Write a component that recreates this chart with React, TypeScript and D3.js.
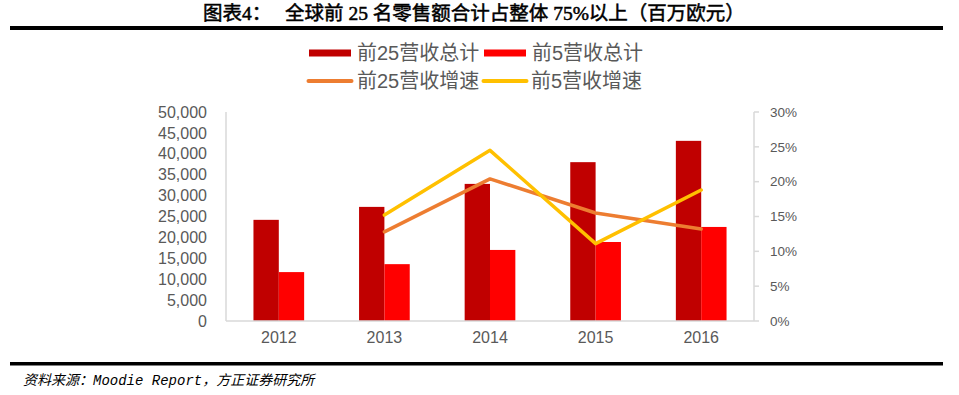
import { useEffect, useRef } from "react";
import * as d3 from "d3";

const years = ["2012", "2013", "2014", "2015", "2016"];
const top25Revenue = [24200, 27300, 32800, 38000, 43100];
const top5Revenue = [11700, 13600, 17000, 18900, 22500];
const top25Growth: (number | null)[] = [null, 12.8, 20.4, 15.5, 13.2];
const top5Growth: (number | null)[] = [null, 15.2, 24.5, 11.1, 18.8];
const leftTicks = [0, 5000, 10000, 15000, 20000, 25000, 30000, 35000, 40000, 45000, 50000];
const rightTicks = [0, 5, 10, 15, 20, 25, 30];

const legendItems = [
  { label: "前25营收总计", color: "#C00000", type: "bar" },
  { label: "前5营收总计", color: "#FF0000", type: "bar" },
  { label: "前25营收增速", color: "#ED7D31", type: "line" },
  { label: "前5营收增速", color: "#FFC000", type: "line" },
];

const WIDTH = 959;
const HEIGHT = 395;
const SANS = "'Liberation Sans', Arial, 'Noto Sans CJK SC', sans-serif";
const SERIF = "'Liberation Serif', 'Noto Sans CJK SC', serif";

export default function App() {
  const svgRef = useRef<SVGSVGElement>(null);

  useEffect(() => {
    document.body.style.margin = "0";
    if (!svgRef.current) return;
    const svg = d3.select(svgRef.current);
    svg.selectAll("*").remove();

    const plot = { left: 226, right: 754, top: 112, bottom: 321 };

    const x = d3.scaleBand<string>().domain(years).range([plot.left, plot.right]);
    const y = d3.scaleLinear().domain([0, 50000]).range([plot.bottom, plot.top]);
    const yR = d3.scaleLinear().domain([0, 30]).range([plot.bottom, plot.top]);
    const barW = x.bandwidth() * 0.24;
    const cx = (d: string) => (x(d) as number) + x.bandwidth() / 2;

    // title + rules
    svg.append("text")
      .attr("x", 203).attr("y", 20)
      .attr("font-family", SERIF).attr("font-size", 19.5)
      .attr("stroke", "#000").attr("stroke-width", 0.5)
      .text("图表4：");
    svg.append("text")
      .attr("x", 285).attr("y", 20)
      .attr("font-family", SERIF).attr("font-size", 19.5)
      .attr("stroke", "#000").attr("stroke-width", 0.5)
      .attr("xml:space", "preserve")
      .text("全球前 25 名零售额合计占整体 75%以上（百万欧元）");
    svg.append("rect").attr("x", 10).attr("y", 26).attr("width", 933).attr("height", 4).attr("fill", "#000");
    svg.append("rect").attr("x", 10).attr("y", 362).attr("width", 933).attr("height", 3.5).attr("fill", "#000");

    // legend
    const legendPos = [
      { sx: 309, tx: 357, y: 53 },
      { sx: 484, tx: 532, y: 53 },
      { sx: 307, tx: 357, y: 81 },
      { sx: 482, tx: 531, y: 81 },
    ];
    legendItems.forEach((item, i) => {
      const p = legendPos[i];
      if (item.type === "bar") {
        svg.append("rect").attr("x", p.sx).attr("y", p.y - 3.5).attr("width", 42).attr("height", 7).attr("fill", item.color);
      } else {
        svg.append("line")
          .attr("x1", p.sx + 1.5).attr("x2", p.sx + 44.5).attr("y1", p.y).attr("y2", p.y)
          .attr("stroke", item.color).attr("stroke-width", 4).attr("stroke-linecap", "round");
      }
      svg.append("text")
        .attr("x", p.tx).attr("y", p.y + 7)
        .attr("font-family", SANS).attr("font-size", 20).attr("fill", "#595959")
        .text(item.label);
    });

    // axes
    const axisColor = "#D9D9D9";
    svg.append("line").attr("x1", plot.left).attr("x2", plot.left).attr("y1", plot.top).attr("y2", plot.bottom)
      .attr("stroke", axisColor).attr("stroke-width", 1.5);
    svg.append("line").attr("x1", plot.right).attr("x2", plot.right).attr("y1", plot.top).attr("y2", plot.bottom)
      .attr("stroke", axisColor).attr("stroke-width", 1.5);
    svg.selectAll(".rtick").data(rightTicks).enter().append("line")
      .attr("x1", plot.right).attr("x2", plot.right + 5)
      .attr("y1", d => yR(d)).attr("y2", d => yR(d))
      .attr("stroke", axisColor).attr("stroke-width", 1.5);

    svg.selectAll(".lt").data(leftTicks).enter().append("text")
      .attr("x", 207).attr("y", d => y(d)).attr("dy", "0.35em")
      .attr("text-anchor", "end").attr("font-family", SANS).attr("font-size", 16).attr("fill", "#595959")
      .text(d => d3.format(",")(d));
    svg.selectAll(".rt").data(rightTicks).enter().append("text")
      .attr("x", 770).attr("y", d => yR(d)).attr("dy", "0.35em")
      .attr("font-family", SANS).attr("font-size", 13.5).attr("fill", "#595959")
      .text(d => `${d}%`);
    svg.selectAll(".xt").data(years).enter().append("text")
      .attr("x", d => cx(d)).attr("y", 343)
      .attr("text-anchor", "middle").attr("font-family", SANS).attr("font-size", 16).attr("fill", "#595959")
      .text(d => d);

    // bars
    svg.selectAll(".b25").data(years).enter().append("rect")
      .attr("x", d => cx(d) - barW).attr("width", barW)
      .attr("y", (_, i) => y(top25Revenue[i])).attr("height", (_, i) => plot.bottom - y(top25Revenue[i]))
      .attr("fill", "#C00000");
    svg.selectAll(".b5").data(years).enter().append("rect")
      .attr("x", d => cx(d)).attr("width", barW)
      .attr("y", (_, i) => y(top5Revenue[i])).attr("height", (_, i) => plot.bottom - y(top5Revenue[i]))
      .attr("fill", "#FF0000");

    svg.append("line").attr("x1", plot.left).attr("x2", plot.right).attr("y1", plot.bottom).attr("y2", plot.bottom)
      .attr("stroke", axisColor).attr("stroke-width", 1.5);

    // growth lines
    const line = d3.line<[string, number | null]>()
      .defined(d => d[1] !== null)
      .x(d => cx(d[0]))
      .y(d => yR(d[1] as number));

    const series = [
      { values: top25Growth, color: "#ED7D31" },
      { values: top5Growth, color: "#FFC000" },
    ];
    series.forEach(s => {
      svg.append("path")
        .datum(years.map((yr, i) => [yr, s.values[i]] as [string, number | null]))
        .attr("fill", "none").attr("stroke", s.color).attr("stroke-width", 3.5)
        .attr("stroke-linecap", "round").attr("stroke-linejoin", "round")
        .attr("d", line);
    });

    // source
    svg.append("text")
      .attr("x", 23).attr("y", 385)
      .attr("font-family", "'Liberation Mono', 'Noto Sans CJK SC', monospace")
      .attr("font-style", "italic").attr("font-size", 14).attr("fill", "#000")
      .text("资料来源：Moodie Report，方正证券研究所");
  }, []);

  return <svg ref={svgRef} width={WIDTH} height={HEIGHT} style={{ display: "block", background: "#fff" }}></svg>;
}
